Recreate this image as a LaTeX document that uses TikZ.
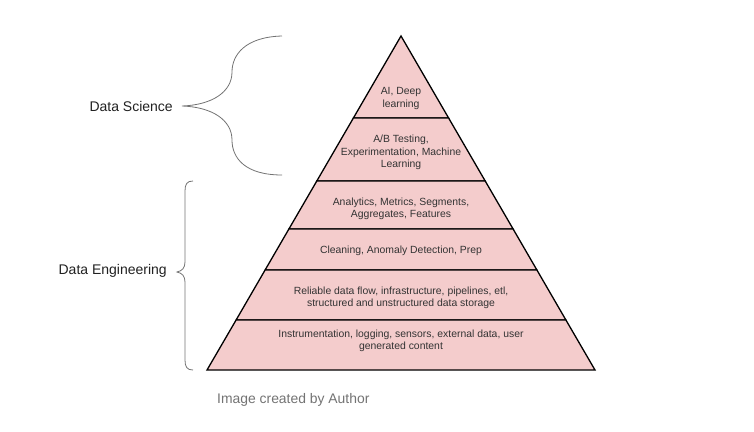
\documentclass[tikz,border=0pt]{standalone}
\usepackage{fontspec}
\setmainfont{Liberation Sans}
\begin{document}
\begin{tikzpicture}[x=1pt,y=-1pt,
  level/.style={fill=pinkfill,draw=black,line width=1.3pt,line join=miter},
  lvtext/.style={align=center,font=\fontsize{10.4}{12.3}\selectfont,text=black!80,inner sep=0pt},
  side/.style={font=\fontsize{14}{16}\selectfont,text=black!87,inner sep=0pt},
  brace/.style={draw=black!55,line width=0.8pt}]
\definecolor{pinkfill}{HTML}{F4CCCC}
\useasboundingbox (0,0) rectangle (754,431);
% pyramid levels
\draw[level] (401,36) -- (448.6,118) -- (353.4,118) -- cycle;
\draw[level] (353.4,118) -- (448.6,118) -- (485.2,181) -- (316.8,181) -- cycle;
\draw[level] (316.8,181) -- (485.2,181) -- (513.1,229) -- (288.9,229) -- cycle;
\draw[level] (288.9,229) -- (513.1,229) -- (536.9,270) -- (265.1,270) -- cycle;
\draw[level] (265.1,270) -- (536.9,270) -- (565.9,320) -- (236.1,320) -- cycle;
\draw[level] (236.1,320) -- (565.9,320) -- (595,370) -- (207,370) -- cycle;
% texts
\node[lvtext] (l1) at (401,98.5) {AI, Deep\\learning};
\node[lvtext] (l2) at (401,152.5) {A/B Testing,\\Experimentation, Machine\\Learning};
\node[lvtext] (l3) at (401,208.5) {Analytics, Metrics, Segments,\\Aggregates, Features};
\node[lvtext] (l4) at (401,251) {Cleaning, Anomaly Detection, Prep};
\node[lvtext] (l5) at (401,298) {Reliable data flow, infrastructure, pipelines, etl,\\structured and unstructured data storage};
\node[lvtext] (l6) at (401,341) {Instrumentation, logging, sensors, external data, user\\generated content};
% side labels
\node[side,anchor=east] (ds) at (173,106) {Data Science};
\node[side,anchor=east] (de) at (167,271) {Data Engineering};
% braces
\coordinate (dsT) at (282,36);
\coordinate (dsB) at (282,175);
\coordinate (dsM) at (182,106);
\draw[brace] (dsT) .. controls (245,37) and (232,55) .. (232,72)
  .. controls (232,92) and (212,105) .. (dsM)
  .. controls (212,107) and (232,120) .. (232,140)
  .. controls (232,158) and (245,175) .. (dsB);
\coordinate (deT) at (193,181);
\coordinate (deB) at (193,370);
\coordinate (deM) at (177,272);
\draw[brace] (deT) .. controls (187,181) and (185,184) .. (185,191)
  -- (185,262) .. controls (185,268) and (182,271) .. (deM)
  .. controls (182,273) and (185,276) .. (185,282)
  -- (185,360) .. controls (185,367) and (187,370) .. (deB);
% caption
\node[anchor=west,inner sep=0pt,text=black!55,font=\fontsize{13.9}{16}\selectfont] (cap) at (217,400) {Image created by Author};
\end{tikzpicture}
\end{document}
